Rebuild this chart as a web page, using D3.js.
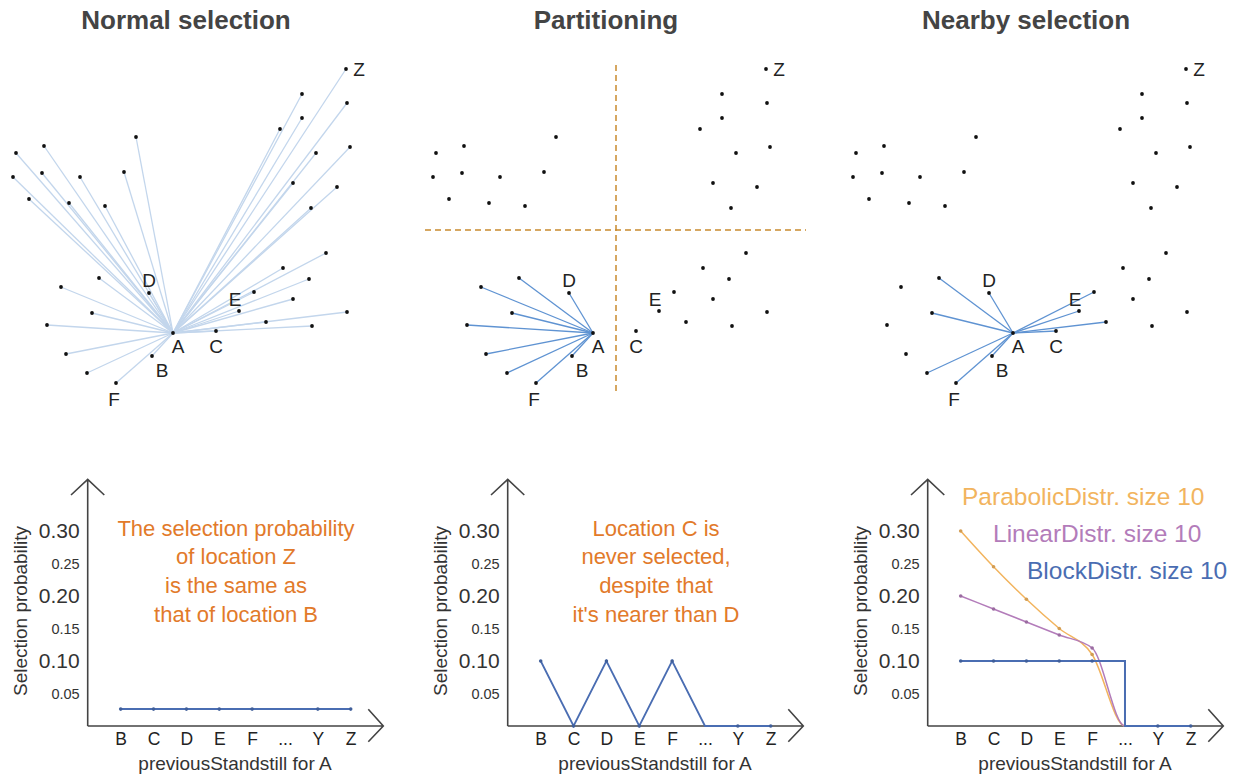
<!DOCTYPE html>
<html>
<head>
<meta charset="utf-8">
<script src="https://cdn.jsdelivr.net/npm/d3@7"></script>
<style>
  body { margin: 0; background: #fff; }
  svg { display: block; font-family: "Liberation Sans", Arial, sans-serif; }
</style>
</head>
<body>
<svg id="chart" width="1259" height="776"></svg>
<script>
// ---- data ----
const panelTitles = ['Normal selection', 'Partitioning', 'Nearby selection'];

// locations relative to A (x right, y up), in map units
const namedLocations = [
  ['A', 0, 0], ['B', -21, -23], ['C', 43, 2], ['D', -24, 40],
  ['E', 66, 22], ['F', -57, -50], ['Z', 173, 264]
];
const otherLocations = [
  [129, 239], [174, 230], [129, 215], [107, 204], [177, 186], [143, 180],
  [120, 150], [164, 146], [138, 125],
  [153, 80], [110, 65], [136, 54], [81, 41], [120, 34], [174, 21], [93, 11], [139, 7],
  [-86, -40], [-107, -21], [-126, 8], [-81, 20], [-112, 46], [-74, 55],
  [-37, 196], [-49, 161], [-68, 127], [-93, 156], [-104, 130], [-129, 187],
  [-131, 160], [-157, 180], [-160, 156], [-144, 134]
];
const partitionSplit = [23, 103];   // x, y of the partition borders
const nearbySize = 10;

const standstills = ['B', 'C', 'D', 'E', 'F', '...', 'Y', 'Z'];
const normalProb = [0.026, 0.026, 0.026, 0.026, 0.026, 0.026, 0.026, 0.026];
const partitionProb = [0.10, 0, 0.10, 0, 0.10, 0, 0, 0];
const parabolicProb = [0.30, 0.245, 0.195, 0.15, 0.11, 0, 0, 0];
const linearProb = [0.20, 0.18, 0.16, 0.14, 0.12, 0, 0, 0];
const blockProb = [0.10, 0.10, 0.10, 0.10, 0.10, 0, 0, 0];

const majorTicks = [0.10, 0.20, 0.30];
const minorTicks = [0.05, 0.15, 0.25];

const notes = [
  ['The selection probability', 'of location Z', 'is the same as', 'that of location B'],
  ['Location C is', 'never selected,', 'despite that', "it's nearer than D"],
  []
];
const legendItems = ['ParabolicDistr. size 10', 'LinearDistr. size 10', 'BlockDistr. size 10'];

// ---- styles ----
const offsets = [0, 420, 840];
const axisColor = '#444';
const noteColor = '#e27a2a';
const blue = '#4a6db2';
const orange = '#f2b45e';
const purple = '#b37cba';
const legendColors = [orange, purple, blue];
const labelOffset = { A: [5, 13], B: [10, 14], C: [0, 15], D: [0, -13], E: [-4, -12], F: [-2, 16], Z: [13, 0] };

const svg = d3.select('#chart');

const locations = namedLocations.map(d => ({ name: d[0], x: d[1], y: d[2] }))
  .concat(otherLocations.map(d => ({ name: null, x: d[0], y: d[1] })));
const origin = locations[0];
const others = locations.slice(1);

function targetsFor(i) {
  if (i === 0) return others;
  if (i === 1) return others.filter(d => d.x < partitionSplit[0] && d.y < partitionSplit[1]);
  return others.slice()
    .sort((a, b) => Math.hypot(a.x, a.y) - Math.hypot(b.x, b.y))
    .slice(0, nearbySize);
}

// ---- top: maps ----
offsets.forEach((off, i) => {
  svg.append('text')
    .attr('x', 186 + off)
    .attr('y', 29)
    .attr('text-anchor', 'middle')
    .attr('font-size', 26)
    .attr('font-weight', 'bold')
    .attr('fill', '#444')
    .text(panelTitles[i]);

  const xs = d3.scaleLinear().domain([-180, 200]).range([173 + off - 180, 173 + off + 200]);
  const ys = d3.scaleLinear().domain([-70, 270]).range([333 + 70, 333 - 270]);
  const g = svg.append('g');

  g.selectAll('line.link')
    .data(targetsFor(i))
    .enter().append('line')
    .attr('class', 'link')
    .attr('x1', xs(origin.x)).attr('y1', ys(origin.y))
    .attr('x2', d => xs(d.x)).attr('y2', d => ys(d.y))
    .attr('stroke', i === 0 ? '#c3d6ec' : '#5f93d2')
    .attr('stroke-width', 1.3);

  if (i === 1) {
    g.append('line')
      .attr('x1', xs(partitionSplit[0])).attr('x2', xs(partitionSplit[0]))
      .attr('y1', ys(268)).attr('y2', ys(-62))
      .attr('stroke', '#c98a2e').attr('stroke-width', 1.5).attr('stroke-dasharray', '6,4');
    g.append('line')
      .attr('x1', xs(-168)).attr('x2', xs(213))
      .attr('y1', ys(partitionSplit[1])).attr('y2', ys(partitionSplit[1]))
      .attr('stroke', '#c98a2e').attr('stroke-width', 1.5).attr('stroke-dasharray', '6,4');
  }

  g.selectAll('circle')
    .data(locations)
    .enter().append('circle')
    .attr('cx', d => xs(d.x)).attr('cy', d => ys(d.y))
    .attr('r', 1.9)
    .attr('fill', '#111');

  g.selectAll('text.loc')
    .data(locations.filter(d => d.name))
    .enter().append('text')
    .attr('class', 'loc')
    .attr('x', d => xs(d.x) + labelOffset[d.name][0])
    .attr('y', d => ys(d.y) + labelOffset[d.name][1])
    .attr('text-anchor', 'middle')
    .attr('dominant-baseline', 'central')
    .attr('font-size', 19)
    .attr('fill', '#222')
    .text(d => d.name);
});

// ---- bottom: probability charts ----
function drawSeries(g, x, y, values, color, width, curve) {
  const pts = standstills.map((s, k) => ({ s, v: values[k] }));
  g.append('path')
    .datum(pts)
    .attr('fill', 'none')
    .attr('stroke', color)
    .attr('stroke-width', width)
    .attr('d', d3.line().x(d => x(d.s)).y(d => y(d.v)).curve(curve));
  g.selectAll(null)
    .data(pts.filter(d => d.s !== '...' && (d.v > 0 || color === blue)))
    .enter().append('circle')
    .attr('cx', d => x(d.s)).attr('cy', d => y(d.v))
    .attr('r', 1.8)
    .attr('fill', d3.color(color).darker(0.4));
}

offsets.forEach((off, i) => {
  const g = svg.append('g');
  const x0 = 87.7 + off;
  const x = d3.scalePoint().domain(standstills).range([120.7 + off, 350.7 + off]);
  const y = d3.scaleLinear().domain([0, 0.3]).range([726, 531]);

  // y ticks
  const yAxis = g.append('g')
    .attr('transform', `translate(${x0},0)`)
    .call(d3.axisLeft(y).tickValues(minorTicks.concat(majorTicks)).tickSize(0).tickPadding(8)
      .tickFormat(d3.format('.2f')));
  yAxis.select('.domain').remove();
  yAxis.selectAll('text')
    .attr('font-family', '"Liberation Sans", Arial, sans-serif')
    .attr('fill', '#333')
    .attr('font-size', d => majorTicks.includes(d) ? 21 : 14.5);

  // x ticks
  const xAxis = g.append('g')
    .attr('transform', 'translate(0,726)')
    .call(d3.axisBottom(x).tickSize(0).tickPadding(7));
  xAxis.select('.domain').remove();
  xAxis.selectAll('text')
    .attr('font-family', '"Liberation Sans", Arial, sans-serif')
    .attr('fill', '#222')
    .attr('font-size', 17.5);

  // axis lines with open arrow heads
  g.append('path')
    .attr('d', `M${x0},726V479.5 M${x0 - 16.7},495L${x0},479.3L${x0 + 16.6},495
               M${x0},726H${383.3 + off} M${368.3 + off},709.3L${383.3 + off},726L${368.3 + off},741.7`)
    .attr('fill', 'none').attr('stroke', axisColor).attr('stroke-width', 1.6);

  g.append('text')
    .attr('transform', `translate(${20.7 + off},611) rotate(-90)`)
    .attr('text-anchor', 'middle')
    .attr('dominant-baseline', 'central')
    .attr('font-size', 19)
    .attr('fill', '#333')
    .text('Selection probability');

  g.append('text')
    .attr('x', 235 + off).attr('y', 770)
    .attr('text-anchor', 'middle')
    .attr('font-size', 19)
    .attr('fill', '#333')
    .text('previousStandstill for A');

  // notes
  notes[i].forEach((line, k) => {
    g.append('text')
      .attr('x', 236 + off).attr('y', 528.3 + k * 28.6)
      .attr('text-anchor', 'middle')
      .attr('dominant-baseline', 'central')
      .attr('font-size', 22)
      .attr('fill', noteColor)
      .text(line);
  });

  if (i === 0) drawSeries(g, x, y, normalProb, blue, 2, d3.curveLinear);
  if (i === 1) drawSeries(g, x, y, partitionProb, blue, 1.8, d3.curveLinear);
  if (i === 2) {
    drawSeries(g, x, y, parabolicProb, orange, 1.5, d3.curveMonotoneX);
    drawSeries(g, x, y, linearProb, purple, 1.5, d3.curveMonotoneX);
    drawSeries(g, x, y, blockProb, blue, 2, d3.curveStepAfter);
    legendItems.forEach((t, k) => {
      g.append('text')
        .attr('x', [962, 993, 1027][k]).attr('y', 496 + k * 37)
        .attr('dominant-baseline', 'central')
        .attr('font-size', 24.5)
        .attr('fill', legendColors[k])
        .text(t);
    });
  }
});
</script>
</body>
</html>
